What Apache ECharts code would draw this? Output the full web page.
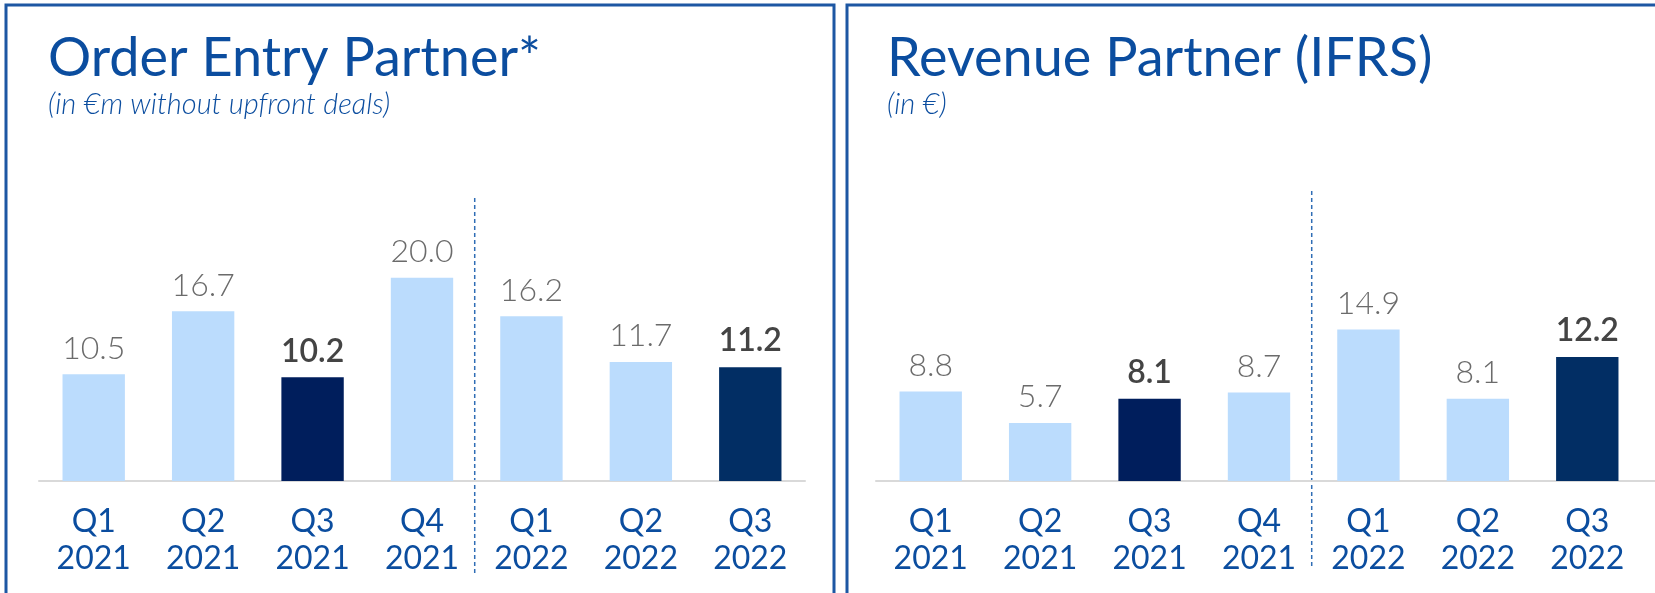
<!DOCTYPE html>
<html>
	<head>
		<meta charset="utf-8">
		<title></title>
		<style type="text/css">
			* {
				margin: 0;
				padding: 0;
			}

			#chart {
				width: 1655px;
				height: 593px;
				background: #fff;
			}
		</style>
		<script src="https://cdn.jsdelivr.net/npm/echarts@6/dist/echarts.min.js"></script>
	</head>
	<body>
		<div id="chart"></div>
	</body>
	<script type="text/javascript">
		// 数据
		var quarters = ['Q1\n2021', 'Q2\n2021', 'Q3\n2021', 'Q4\n2021', 'Q1\n2022', 'Q2\n2022', 'Q3\n2022'];
		var orderEntry = [10.5, 16.7, 10.2, 20.0, 16.2, 11.7, 11.2];
		var revenue = [8.8, 5.7, 8.1, 8.7, 14.9, 8.1, 12.2];
		// 高亮的季度 (Q3)
		var highlight = [false, false, true, false, false, false, true];

		var lightBlue = '#bbdcfd';
		var darkBlue = ['#001e5c', '#022e64'];
		var titleBlue = '#0b4d9f';
		var font = 'Lato';

		function makeData(values) {
			var k = 0;
			return values.map(function(v, i) {
				if (!highlight[i]) {
					return { value: v };
				}
				var c = darkBlue[k++] || darkBlue[0];
				return {
					value: v,
					itemStyle: { color: c },
					label: { fontWeight: 600, color: '#444444' }
				};
			});
		}

		function xAxisOpt(idx) {
			return {
				type: 'category',
				gridIndex: idx,
				data: quarters,
				axisTick: { show: false },
				axisLine: { lineStyle: { color: '#d9d9d9', width: 2 } },
				axisLabel: {
					interval: 0,
					color: titleBlue,
					fontFamily: font,
					fontSize: 32,
					lineHeight: 37,
					margin: 22
				}
			};
		}

		function yAxisOpt(idx) {
			return {
				type: 'value',
				gridIndex: idx,
				min: 0,
				max: 30,
				show: false
			};
		}

		function seriesOpt(idx, values) {
			return {
				type: 'bar',
				xAxisIndex: idx,
				yAxisIndex: idx,
				barWidth: '57%',
				itemStyle: { color: lightBlue },
				label: {
					show: true,
					position: 'top',
					distance: 10,
					color: '#6b6b6b',
					fontFamily: font,
					fontWeight: 300,
					fontSize: 32,
					formatter: function(p) {
						return p.value.toFixed(1);
					}
				},
				data: makeData(values)
			};
		}

		var chart = echarts.init(document.getElementById('chart'));
		var titleStyle = { color: titleBlue, fontFamily: font, fontWeight: 400, fontSize: 54 };
		var subStyle = { color: titleBlue, fontFamily: font, fontStyle: 'italic', fontWeight: 300, fontSize: 29 };
		var option = {
			animation: false,
			title: [{
				text: 'Order Entry Partner*',
				subtext: '(in €m without upfront deals)',
				left: 43,
				top: 27,
				itemGap: 4,
				textStyle: titleStyle,
				subtextStyle: subStyle
			}, {
				text: 'Revenue Partner (IFRS)',
				subtext: '(in €)',
				left: 882,
				top: 27,
				itemGap: 4,
				textStyle: titleStyle,
				subtextStyle: subStyle
			}],
			grid: [
				{ left: 39, width: 766, top: 176, bottom: 112 },
				{ left: 876, width: 766, top: 176, bottom: 112 }
			],
			xAxis: [xAxisOpt(0), xAxisOpt(1)],
			yAxis: [yAxisOpt(0), yAxisOpt(1)],
			series: [seriesOpt(0, orderEntry), seriesOpt(1, revenue)]
		};
		chart.setOption(option);

		// 面板边框和虚线分隔
		function sepX(idx) {
			var a = chart.convertToPixel({ xAxisIndex: idx }, 3);
			var b = chart.convertToPixel({ xAxisIndex: idx }, 4);
			return (a + b) / 2 - 2;
		}
		chart.setOption({
			graphic: [{
				type: 'rect',
				shape: { x: 6, y: 5, width: 828, height: 600 },
				style: { fill: 'none', stroke: '#1d57a3', lineWidth: 3 },
				silent: true
			}, {
				type: 'rect',
				shape: { x: 847, y: 5, width: 820, height: 600 },
				style: { fill: 'none', stroke: '#1d57a3', lineWidth: 3 },
				silent: true
			}, {
				type: 'line',
				shape: { x1: sepX(0), y1: 198, x2: sepX(0), y2: 576 },
				style: { stroke: '#2f6db5', lineWidth: 1.5, lineDash: [4, 3] },
				silent: true
			}, {
				type: 'line',
				shape: { x1: sepX(1), y1: 191, x2: sepX(1), y2: 567 },
				style: { stroke: '#2f6db5', lineWidth: 1.5, lineDash: [4, 3] },
				silent: true
			}, {
				type: 'line',
				shape: { x1: 1640, y1: 481, x2: 1655, y2: 481 },
				style: { stroke: '#d9d9d9', lineWidth: 2 },
				silent: true
			}]
		});
	</script>
</html>
